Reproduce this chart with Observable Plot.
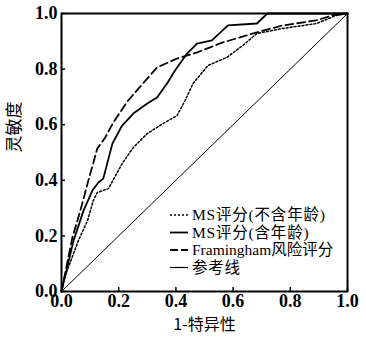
<!DOCTYPE html>
<html><head><meta charset="utf-8">
<script src="https://cdn.jsdelivr.net/npm/d3@7"></script>
<script src="https://cdn.jsdelivr.net/npm/@observablehq/plot@0.6"></script>
<style>body{margin:0;background:#fff;}</style>
</head><body><div id="chart"></div>
<script>
// MS评分(不含年龄) — dotted
const noAgeX = [0,0.007,0.059,0.091,0.111,0.125,0.164,0.195,0.212,0.251,0.30,0.355,0.404,0.432,0.46,0.512,0.578,0.634,0.683,0.773,0.892,0.96,1];
const noAgeY = [0,0.04,0.183,0.255,0.327,0.356,0.37,0.428,0.46,0.518,0.568,0.604,0.633,0.687,0.748,0.813,0.842,0.885,0.928,0.946,0.964,0.993,1];
// MS评分(含年龄) — solid
const ageX = [0,0.042,0.077,0.108,0.129,0.146,0.178,0.212,0.251,0.30,0.334,0.369,0.397,0.439,0.474,0.526,0.554,0.582,0.683,0.72,1];
const ageY = [0,0.183,0.291,0.363,0.392,0.406,0.532,0.597,0.64,0.676,0.698,0.748,0.795,0.856,0.892,0.903,0.93,0.957,0.964,1,1];
// Framingham风险评分 — dashed
const famX = [0,0.038,0.066,0.094,0.125,0.153,0.181,0.233,0.334,0.404,0.474,0.564,0.683,0.773,0.89,0.948,1];
const famY = [0,0.194,0.291,0.399,0.514,0.554,0.608,0.687,0.806,0.838,0.86,0.896,0.932,0.957,0.975,0.993,1];
// 参考线
const refX = [0,1];
const refY = [0,1];

const ticks = [0,0.2,0.4,0.6,0.8,1.0];
const seriesNames = ["MS评分(不含年龄)","MS评分(含年龄)","Framingham风险评分","参考线"];
const xTitle = "1-特异性";
const yTitle = "灵敏度";

const toPts = (xs, ys) => xs.map((x,i)=>({x, y: ys[i]}));
const serif = "'Liberation Serif','Times New Roman','Noto Sans CJK SC',serif";

const chart = Plot.plot({
  width: 366, height: 337,
  marginLeft: 61, marginRight: 19, marginTop: 13, marginBottom: 46,
  x: {domain: [0,1]},
  y: {domain: [0,1]},
  style: {fontFamily: serif, background: "#fff", color: "#000"},
  marks: [
    Plot.line(toPts(refX, refY), {x:"x", y:"y", stroke:"#000", strokeWidth:1}),
    Plot.line(toPts(noAgeX, noAgeY), {x:"x", y:"y", stroke:"#000", strokeWidth:1.5, strokeDasharray:"2,2"}),
    Plot.line(toPts(famX, famY), {x:"x", y:"y", stroke:"#000", strokeWidth:1.8, strokeDasharray:"8,4"}),
    Plot.line(toPts(ageX, ageY), {x:"x", y:"y", stroke:"#000", strokeWidth:1.8}),
    Plot.frame({stroke:"#000", strokeWidth:2}),
    Plot.axisX({ticks, tickFormat: d3.format(".1f"), tickSize:-4, tickPadding:7, strokeWidth:1.5, fontSize:18, fontWeight:"bold", label:null}),
    Plot.axisY({ticks, tickFormat: d3.format(".1f"), tickSize:-4, tickPadding:8, strokeWidth:1.5, fontSize:18, fontWeight:"bold", label:null}),
    Plot.text([xTitle], {text: d=>d, frameAnchor:"bottom", dy:38, fontSize:16, fontFamily:"'Noto Sans CJK SC',sans-serif"}),
    Plot.text([yTitle], {text: d=>d, frameAnchor:"left", dx:-47, rotate:-90, fontSize:17, fontFamily:"'Noto Sans CJK SC',sans-serif"})
  ]
});
document.getElementById("chart").appendChild(chart);

// legend
const svg = d3.select(chart);
const dashes = ["2,2", null, "8,3", null];
const widths = [1.5, 1.8, 1.8, 1.2];
const spacing = [0.8, 0.8, 0, 0.8];
const lg = svg.append("g").attr("text-anchor","start");
seriesNames.forEach((name, i) => {
  const y = 215 + i*17.5;
  const l = lg.append("line").attr("x1",170).attr("x2",188).attr("y1",y).attr("y2",y)
    .attr("stroke","#000").attr("stroke-width",widths[i]);
  if (dashes[i]) l.attr("stroke-dasharray", dashes[i]);
  lg.append("text").attr("x",192).attr("y",y).attr("dy","0.35em").attr("text-anchor","start")
    .attr("letter-spacing", spacing[i])
    .attr("font-size",15.5).attr("font-family",serif).attr("fill","#000").text(name);
});
</script>
</body></html>
